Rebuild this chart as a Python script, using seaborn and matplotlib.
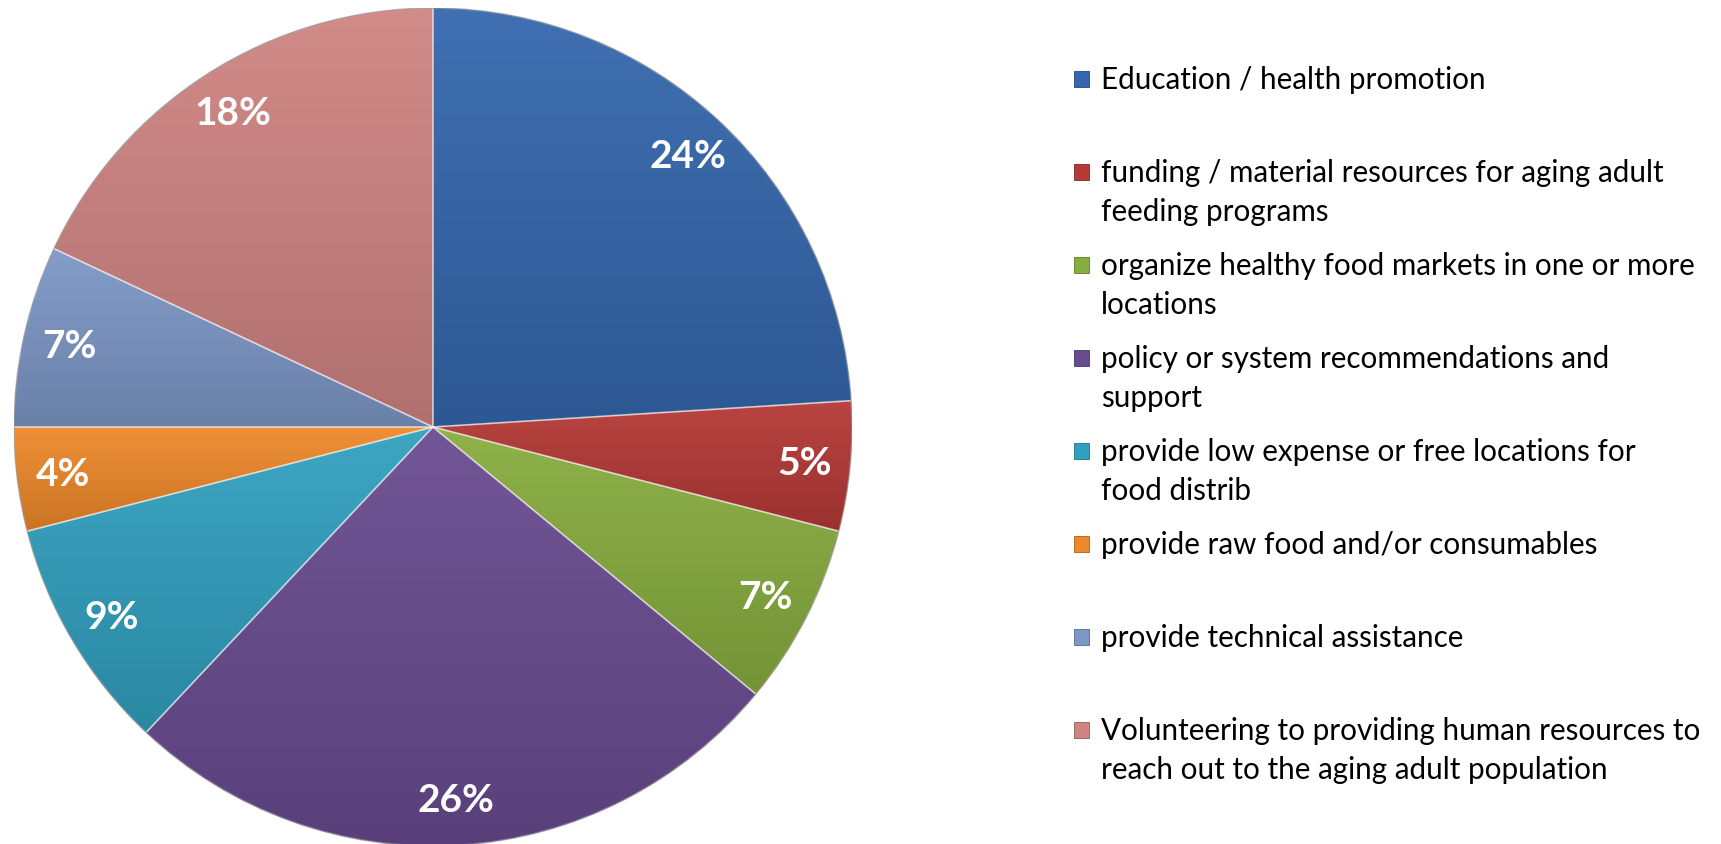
import numpy as np
import matplotlib
matplotlib.use("Agg")
import matplotlib.pyplot as plt
import matplotlib.colors as mcolors
from matplotlib.patches import Rectangle
import seaborn as sns

sns.set_theme(style="white")
plt.rcParams["font.family"] = ["Lato", "DejaVu Sans"]

# data (percent of responses)
categories = [
    "Education / health promotion",
    "funding / material resources for aging adult\nfeeding programs",
    "organize healthy food markets in one or more\nlocations",
    "policy or system recommendations and\nsupport",
    "provide low expense or free locations for\nfood distrib",
    "provide raw food and/or consumables",
    "provide technical assistance",
    "Volunteering to providing human resources to\nreach out to the aging adult population",
]
shares = [24, 5, 7, 26, 9, 4, 7, 18]
slice_colors = ["#3467AD", "#B53936", "#88AD3F", "#694B90",
                "#31A0BF", "#EE892B", "#7C97C6", "#CF8482"]

W, H = 1721, 845
fig = plt.figure(figsize=(W / 100, H / 100), dpi=100)
fig.patch.set_facecolor("white")

# pie area (pixel geometry of the reference)
cx, cy, r = 433, 428, 419
ax = fig.add_axes([(cx - r) / W, (H - cy - r) / H, 2 * r / W, 2 * r / H])

wedges, _, autotexts = ax.pie(
    shares, colors=slice_colors, startangle=90, counterclock=False,
    autopct="%1.0f%%", pctdistance=0.89,
    wedgeprops={"edgecolor": (1, 1, 1, 0.4), "linewidth": 1.2},
    textprops={"color": "white", "fontsize": 28, "fontweight": "bold"},
)


def shade(c, amt):
    rgb = np.array(mcolors.to_rgb(c))
    if amt >= 0:
        return rgb + (1 - rgb) * amt
    return rgb * (1 + amt)


# vertical gradient inside every slice, lighter at top
for w, c in zip(wedges, slice_colors):
    bb = w.get_path().get_extents(w.get_patch_transform())
    top, bot = shade(c, 0.06), shade(c, -0.15)
    t = np.linspace(0, 1, 256)[:, None]
    grad = (bot[None, :] * (1 - t) + top[None, :] * t)[:, None, :]
    im = ax.imshow(grad, extent=[bb.x0, bb.x1, bb.y0, bb.y1], origin="lower",
                   aspect="auto", interpolation="bilinear", zorder=1)
    im.set_clip_path(w)
    w.set_facecolor("none")
    w.set_zorder(2)

# faint dark rim around the whole pie
ax.add_artist(plt.Circle((0, 0), 1, fill=False, edgecolor=(0, 0, 0, 0.25),
                         linewidth=1.0, zorder=3))

for t in autotexts:
    t.set_zorder(5)

ax.set_xlim(-1, 1)
ax.set_ylim(-1, 1)
ax.set_aspect("equal")
ax.axis("off")

# legend on the right, drawn entry by entry
text_x = 1101
first_base = 89
entry_step = 93
line_step = 39
for k, (lab, c) in enumerate(zip(categories, slice_colors)):
    base = first_base + k * entry_step
    fig.add_artist(Rectangle(((text_x - 27) / W, 1 - (base - 1) / H), 15 / W, 16 / H,
                             transform=fig.transFigure, facecolor=c,
                             edgecolor=shade(c, -0.3), linewidth=0.6))
    for j, line in enumerate(lab.split("\n")):
        fig.text(text_x / W, 1 - (base + j * line_step) / H, line,
                 fontsize=21.3, color="black", va="baseline", ha="left")

fig.savefig("out.png", dpi=100, facecolor="white")
